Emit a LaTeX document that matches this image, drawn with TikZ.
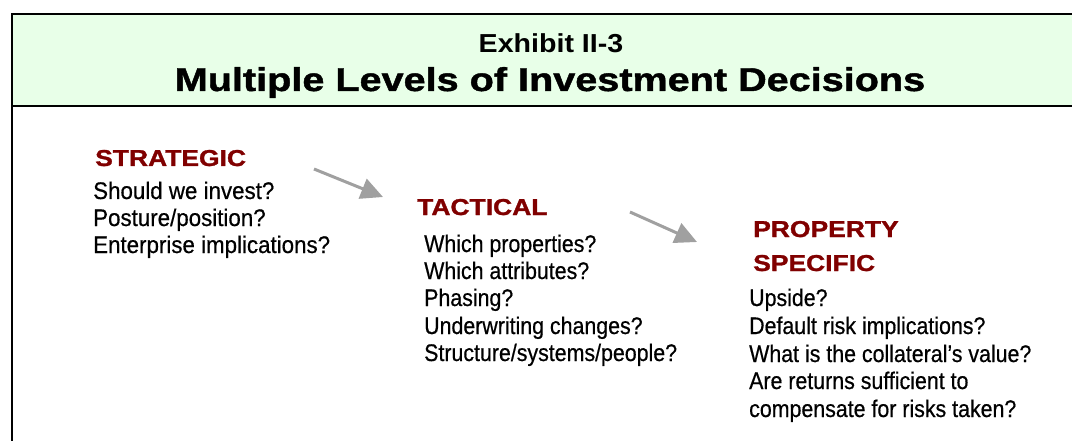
\documentclass[tikz,border=0pt]{standalone}
\usepackage{fontspec}
\setmainfont{Liberation Sans}
\newfontfamily\heavyfont[FakeBold=1.2]{Liberation Sans Bold}
\newfontfamily\bodyfont[FakeBold=0.6]{Liberation Sans}
\usetikzlibrary{arrows.meta}
\definecolor{hdrgreen}{RGB}{232,255,232}
\definecolor{darkred}{RGB}{128,0,0}
\definecolor{arrowgray}{RGB}{160,160,160}
\newcommand\wideX[2]{\scalebox{#1}[1]{#2}}
\tikzset{
  exhibit/.style={anchor=base, inner sep=0pt, font=\fontsize{26}{30}\selectfont\bfseries},
  maintitle/.style={anchor=base, inner sep=0pt, font=\fontsize{33}{38}\selectfont\heavyfont},
  levelhead/.style={anchor=base west, inner sep=0pt, text=darkred, font=\fontsize{23}{27}\selectfont\heavyfont},
  bodyline/.style={anchor=base west, inner sep=0pt, font=\fontsize{24}{28}\selectfont\bodyfont},
  flowarrow/.style={draw=arrowgray, line width=3pt, -{Triangle[length=22pt,width=21pt]}, fill=arrowgray}
}
\begin{document}
\begin{tikzpicture}[x=1pt,y=-1pt]
\useasboundingbox (0,0) rectangle (1072,441);
% header band
\fill[hdrgreen] (12,14) rectangle (1072,106);
\draw[line width=2.5pt] (1072,14) -- (12,14) -- (12,441);
\draw[line width=2.5pt] (12,106) -- (1072,106);
% titles
\node[exhibit] (exh) at (551,53) {\wideX{1.1}{Exhibit II-3}};
\node[maintitle] (ttl) at (550,91) {\wideX{1.2}{Multiple Levels of Investment Decisions}};
% strategic
\node[levelhead] (strat) at (95,166) {\wideX{1.15}{STRATEGIC}};
\node[bodyline] (s1) at (93,199) {\wideX{0.93}{Should we invest?}};
\node[bodyline] (s2) at (93,226) {\wideX{0.93}{Posture/position?}};
\node[bodyline] (s3) at (93,253) {\wideX{0.93}{Enterprise implications?}};
% tactical
\node[levelhead] (tact) at (417,215) {\wideX{1.15}{TACTICAL}};
\node[bodyline] (t1) at (424,252) {\wideX{0.89}{Which properties?}};
\node[bodyline] (t2) at (424,279) {\wideX{0.89}{Which attributes?}};
\node[bodyline] (t3) at (424,306) {\wideX{0.89}{Phasing?}};
\node[bodyline] (t4) at (424,334) {\wideX{0.89}{Underwriting changes?}};
\node[bodyline] (t5) at (424,361) {\wideX{0.89}{Structure/systems/people?}};
% property specific
\node[levelhead] (prop1) at (753,237) {\wideX{1.15}{PROPERTY}};
\node[levelhead] (prop2) at (753,271) {\wideX{1.15}{SPECIFIC}};
\node[bodyline] (p1) at (749,306) {\wideX{0.89}{Upside?}};
\node[bodyline] (p2) at (749,334) {\wideX{0.89}{Default risk implications?}};
\node[bodyline] (p3) at (749,362) {\wideX{0.89}{What is the collateral’s value?}};
\node[bodyline] (p4) at (749,389) {\wideX{0.89}{Are returns sufficient to}};
\node[bodyline] (p5) at (749,417) {\wideX{0.89}{compensate for risks taken?}};
% arrows
\coordinate (a1s) at (314,169);
\coordinate (a1e) at (383,197);
\coordinate (a2s) at (630,212);
\coordinate (a2e) at (697,242);
\draw[flowarrow] (a1s) -- (a1e);
\draw[flowarrow] (a2s) -- (a2e);
\end{tikzpicture}
\end{document}
